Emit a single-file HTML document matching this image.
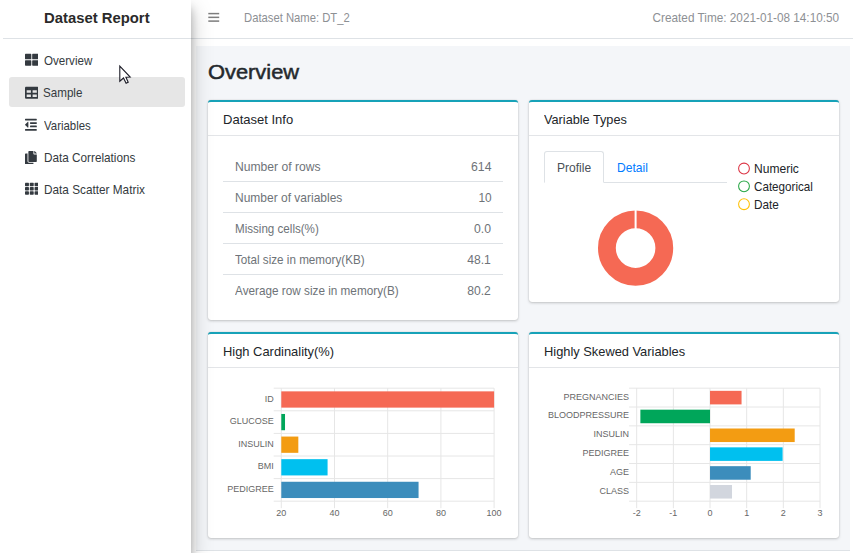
<!DOCTYPE html>
<html lang="en">
<head>
<meta charset="utf-8">
<title>Dataset Report</title>
<style>
*{box-sizing:border-box;margin:0;padding:0}
ul{list-style:none}
html,body{width:853px;height:553px;overflow:hidden;background:#fff}
body{font-family:"Liberation Sans",sans-serif;color:#212529;position:relative;font-size:12px}
.tx{position:absolute;white-space:nowrap;line-height:1;z-index:6;font-family:"Liberation Sans",sans-serif}
h1.tx{-webkit-text-stroke:0.5px #24292d}
.ic{position:absolute;z-index:6;fill:#343a40}
.ch{position:absolute;z-index:3}
.ch text{font-family:"Liberation Sans",sans-serif;font-size:9.5px;fill:#666}
#sidebar{position:absolute;left:0;top:0;width:191px;height:553px;background:#fff;z-index:5;
  box-shadow:0 10px 20px rgba(0,0,0,.25),0 8px 8px rgba(0,0,0,.22)}
#brandline{position:absolute;left:3px;top:38px;width:188px;height:1px;background:#dee2e6}
#active{position:absolute;left:9.3px;top:77.2px;width:175.7px;height:29.5px;border-radius:3px;background:#e6e6e6}
#header{position:absolute;left:191px;top:0;width:662px;height:39px;background:#fff;border-bottom:1px solid #dee2e6}
#content{position:absolute;left:196px;top:46px;width:654px;height:504px;background:#f4f6f9}
#footer{position:absolute;left:196px;top:550px;width:654px;height:3px;border-top:1px solid #dee2e6;background:#fff}
.card{position:absolute;background:#fff;border-top:2.3px solid #17a2b8;border-radius:3px;z-index:2;
  box-shadow:0 0 1px rgba(0,0,0,.2),0 1px 3px rgba(0,0,0,.2)}
.hl{position:absolute;height:1px;background:#e3e5e8;z-index:3}
.rl{position:absolute;left:223px;width:280px;height:1px;background:#dee2e6;z-index:3}
.sv{position:absolute;z-index:3}
</style>
</head>
<body>
<header>
<div id="header"></div>
<svg class="sv" style="left:206px;top:10px;z-index:6" width="16" height="16" viewBox="206 10 16 16" fill="#7d7d7d"><rect x="208.3" y="12.85" width="10.9" height="1.5"/><rect x="208.3" y="16.6" width="10.9" height="1.5"/><rect x="208.3" y="20.35" width="10.9" height="1.5"/></svg>
<span class="tx" id="dsname" style="left:243.7px;top:12px;font-size:12.25px;color:#8d9094;font-weight:normal;transform:scaleX(0.9186);transform-origin:0 0;">Dataset Name: DT_2</span>
<span class="tx" id="ctime" style="right:13.9px;top:12px;font-size:12.25px;color:#8d9094;font-weight:normal;transform:scaleX(0.9609);transform-origin:100% 0;">Created Time: 2021-01-08 14:10:50</span>
</header>
<main>
<div id="content"></div>
<h1 class="tx" id="h1" style="left:208.2px;top:61px;font-size:21px;color:#24292d;font-weight:normal;transform:scaleX(1.0408);transform-origin:0 0;">Overview</h1>
<section>
<div class="card" style="left:208px;top:99.7px;width:310px;height:220.3px"></div>
<div class="hl" style="left:208px;top:135px;width:310px"></div>
<span class="tx" id="ct1" style="left:223.1px;top:113px;font-size:13px;color:#212529;font-weight:normal;transform:scaleX(1.0013);transform-origin:0 0;">Dataset Info</span>
<ul>
<li><span class="tx" id="ra0" style="left:234.9px;top:161px;font-size:12.25px;color:#6e7378;font-weight:normal;transform:scaleX(0.9900);transform-origin:0 0;">Number of rows</span><span class="tx" id="rb0" style="right:361.7px;top:161px;font-size:12.25px;color:#6e7378;font-weight:normal;transform:scaleX(0.9974);transform-origin:100% 0;">614</span><div class="rl" style="top:181px"></div></li>
<li><span class="tx" id="ra1" style="left:234.9px;top:192px;font-size:12.25px;color:#6e7378;font-weight:normal;transform:scaleX(0.9788);transform-origin:0 0;">Number of variables</span><span class="tx" id="rb1" style="right:361.7px;top:192px;font-size:12.25px;color:#6e7378;font-weight:normal;transform:scaleX(0.9677);transform-origin:100% 0;">10</span><div class="rl" style="top:212px"></div></li>
<li><span class="tx" id="ra2" style="left:234.9px;top:223px;font-size:12.25px;color:#6e7378;font-weight:normal;transform:scaleX(0.9471);transform-origin:0 0;">Missing cells(%)</span><span class="tx" id="rb2" style="right:361.7px;top:223px;font-size:12.25px;color:#6e7378;font-weight:normal;transform:scaleX(0.9982);transform-origin:100% 0;">0.0</span><div class="rl" style="top:243px"></div></li>
<li><span class="tx" id="ra3" style="left:234.9px;top:254px;font-size:12.25px;color:#6e7378;font-weight:normal;transform:scaleX(0.9518);transform-origin:0 0;">Total size in memory(KB)</span><span class="tx" id="rb3" style="right:361.7px;top:254px;font-size:12.25px;color:#6e7378;font-weight:normal;transform:scaleX(0.9898);transform-origin:100% 0;">48.1</span><div class="rl" style="top:274px"></div></li>
<li><span class="tx" id="ra4" style="left:234.9px;top:285px;font-size:12.25px;color:#6e7378;font-weight:normal;transform:scaleX(0.9592);transform-origin:0 0;">Average row size in memory(B)</span><span class="tx" id="rb4" style="right:361.7px;top:285px;font-size:12.25px;color:#6e7378;font-weight:normal;transform:scaleX(0.9898);transform-origin:100% 0;">80.2</span></li>
</ul>
</section>
<section>
<div class="card" style="left:529px;top:99.7px;width:310px;height:202.6px"></div>
<div class="hl" style="left:529px;top:135px;width:310px"></div>
<span class="tx" id="ct2" style="left:544.0px;top:113px;font-size:13px;color:#212529;font-weight:normal;transform:scaleX(0.9765);transform-origin:0 0;">Variable Types</span>
<div class="hl" style="left:544px;top:182px;width:183px;background:#dee2e6"></div>
<div id="tab" style="position:absolute;z-index:3;left:544px;top:151px;width:60px;height:32px;border:1px solid #dee2e6;border-bottom-color:#fff;border-radius:3px 3px 0 0;background:#fff"></div>
<span class="tx" id="tp" style="left:556.8px;top:162px;font-size:12.25px;color:#495057;font-weight:normal;transform:scaleX(0.9817);transform-origin:0 0;">Profile</span>
<span class="tx" id="td" style="left:616.9px;top:162px;font-size:12.25px;color:#007bff;font-weight:normal;transform:scaleX(0.9863);transform-origin:0 0;">Detail</span>
<svg class="sv" style="left:589px;top:205px" width="92" height="86" viewBox="589 205 92 86">
<circle cx="635.6" cy="248.1" r="28.7" fill="none" stroke="#f56954" stroke-width="17.8"/>
<rect x="634.6" y="209" width="2" height="20.5" fill="#fff"/>
</svg>
<svg class="sv" style="left:736px;top:161px" width="16" height="52" viewBox="736 161 16 52" fill="none" stroke-width="1.05">
<circle cx="744" cy="168.5" r="5.4" stroke="#dc3545"/>
<circle cx="744" cy="186.3" r="5.4" stroke="#28a745"/>
<circle cx="744" cy="204.2" r="5.4" stroke="#ffc107"/>
</svg>
<span class="tx" id="l1" style="left:753.7px;top:163px;font-size:12.25px;color:#212529;font-weight:normal;transform:scaleX(0.9844);transform-origin:0 0;">Numeric</span>
<span class="tx" id="l2" style="left:753.7px;top:181px;font-size:12.25px;color:#212529;font-weight:normal;transform:scaleX(0.9505);transform-origin:0 0;">Categorical</span>
<span class="tx" id="l3" style="left:753.7px;top:199px;font-size:12.25px;color:#212529;font-weight:normal;transform:scaleX(0.9617);transform-origin:0 0;">Date</span>
</section>
<section>
<div class="card" style="left:208px;top:331.7px;width:310px;height:206.1px"></div>
<div class="hl" style="left:208px;top:367px;width:310px"></div>
<span class="tx" id="ct3" style="left:223.4px;top:345px;font-size:13px;color:#212529;font-weight:normal;transform:scaleX(0.9921);transform-origin:0 0;">High Cardinality(%)</span>
<svg id="ch1" class="ch" style="left:171px;top:380px" width="343" height="147" viewBox="171 380 343 147">
<line x1="273.70" x2="494.10" y1="388.20" y2="388.20" stroke="#e6e6e6"/>
<line x1="273.70" x2="494.10" y1="410.80" y2="410.80" stroke="#e6e6e6"/>
<line x1="273.70" x2="494.10" y1="433.40" y2="433.40" stroke="#e6e6e6"/>
<line x1="273.70" x2="494.10" y1="456.00" y2="456.00" stroke="#e6e6e6"/>
<line x1="273.70" x2="494.10" y1="478.60" y2="478.60" stroke="#e6e6e6"/>
<line x1="273.70" x2="494.10" y1="501.20" y2="501.20" stroke="#e6e6e6"/>
<line x1="281.30" x2="281.30" y1="388.20" y2="508.20" stroke="#e6e6e6"/>
<line x1="334.50" x2="334.50" y1="388.20" y2="508.20" stroke="#e6e6e6"/>
<line x1="387.70" x2="387.70" y1="388.20" y2="508.20" stroke="#e6e6e6"/>
<line x1="440.90" x2="440.90" y1="388.20" y2="508.20" stroke="#e6e6e6"/>
<line x1="494.10" x2="494.10" y1="388.20" y2="508.20" stroke="#e6e6e6"/>
<rect x="281.30" y="391.36" width="212.80" height="16.27" fill="#f56954"/>
<text transform="translate(273.70 401.50) scale(0.947 1)" text-anchor="end">ID</text>
<rect x="281.30" y="413.96" width="3.72" height="16.27" fill="#00a65a"/>
<text transform="translate(273.70 424.10) scale(0.947 1)" text-anchor="end">GLUCOSE</text>
<rect x="281.30" y="436.56" width="17.02" height="16.27" fill="#f39c12"/>
<text transform="translate(273.70 446.70) scale(0.947 1)" text-anchor="end">INSULIN</text>
<rect x="281.30" y="459.16" width="46.28" height="16.27" fill="#00c0ef"/>
<text transform="translate(273.70 469.30) scale(0.947 1)" text-anchor="end">BMI</text>
<rect x="281.30" y="481.76" width="137.26" height="16.27" fill="#3c8dbc"/>
<text transform="translate(273.70 491.90) scale(0.947 1)" text-anchor="end">PEDIGREE</text>
<text transform="translate(281.30 516.10) scale(0.947 1)" text-anchor="middle">20</text>
<text transform="translate(334.50 516.10) scale(0.947 1)" text-anchor="middle">40</text>
<text transform="translate(387.70 516.10) scale(0.947 1)" text-anchor="middle">60</text>
<text transform="translate(440.90 516.10) scale(0.947 1)" text-anchor="middle">80</text>
<text transform="translate(494.10 516.10) scale(0.947 1)" text-anchor="middle">100</text>
</svg>
</section>
<section>
<div class="card" style="left:529px;top:331.7px;width:310px;height:206.1px"></div>
<div class="hl" style="left:529px;top:367px;width:310px"></div>
<span class="tx" id="ct4" style="left:544.4px;top:345px;font-size:13px;color:#212529;font-weight:normal;transform:scaleX(0.9878);transform-origin:0 0;">Highly Skewed Variables</span>
<svg id="ch2" class="ch" style="left:526px;top:380px" width="314" height="147" viewBox="526 380 314 147">
<line x1="629.10" x2="820.00" y1="388.20" y2="388.20" stroke="#e6e6e6"/>
<line x1="629.10" x2="820.00" y1="407.03" y2="407.03" stroke="#e6e6e6"/>
<line x1="629.10" x2="820.00" y1="425.87" y2="425.87" stroke="#e6e6e6"/>
<line x1="629.10" x2="820.00" y1="444.70" y2="444.70" stroke="#e6e6e6"/>
<line x1="629.10" x2="820.00" y1="463.53" y2="463.53" stroke="#e6e6e6"/>
<line x1="629.10" x2="820.00" y1="482.37" y2="482.37" stroke="#e6e6e6"/>
<line x1="629.10" x2="820.00" y1="501.20" y2="501.20" stroke="#e6e6e6"/>
<line x1="636.70" x2="636.70" y1="388.20" y2="508.20" stroke="#e6e6e6"/>
<line x1="673.36" x2="673.36" y1="388.20" y2="508.20" stroke="#e6e6e6"/>
<line x1="710.02" x2="710.02" y1="388.20" y2="508.20" stroke="#e6e6e6"/>
<line x1="746.68" x2="746.68" y1="388.20" y2="508.20" stroke="#e6e6e6"/>
<line x1="783.34" x2="783.34" y1="388.20" y2="508.20" stroke="#e6e6e6"/>
<line x1="820.00" x2="820.00" y1="388.20" y2="508.20" stroke="#e6e6e6"/>
<rect x="710.02" y="390.84" width="31.53" height="13.56" fill="#f56954"/>
<text transform="translate(629.10 399.62) scale(0.947 1)" text-anchor="end">PREGNANCIES</text>
<rect x="640.37" y="409.67" width="69.65" height="13.56" fill="#00a65a"/>
<text transform="translate(629.10 418.45) scale(0.947 1)" text-anchor="end">BLOODPRESSURE</text>
<rect x="710.02" y="428.50" width="84.68" height="13.56" fill="#f39c12"/>
<text transform="translate(629.10 437.28) scale(0.947 1)" text-anchor="end">INSULIN</text>
<rect x="710.02" y="447.34" width="72.59" height="13.56" fill="#00c0ef"/>
<text transform="translate(629.10 456.12) scale(0.947 1)" text-anchor="end">PEDIGREE</text>
<rect x="710.02" y="466.17" width="40.69" height="13.56" fill="#3c8dbc"/>
<text transform="translate(629.10 474.95) scale(0.947 1)" text-anchor="end">AGE</text>
<rect x="710.02" y="485.00" width="22.00" height="13.56" fill="#d2d6de"/>
<text transform="translate(629.10 493.78) scale(0.947 1)" text-anchor="end">CLASS</text>
<text transform="translate(636.70 516.10) scale(0.947 1)" text-anchor="middle">-2</text>
<text transform="translate(673.36 516.10) scale(0.947 1)" text-anchor="middle">-1</text>
<text transform="translate(710.02 516.10) scale(0.947 1)" text-anchor="middle">0</text>
<text transform="translate(746.68 516.10) scale(0.947 1)" text-anchor="middle">1</text>
<text transform="translate(783.34 516.10) scale(0.947 1)" text-anchor="middle">2</text>
<text transform="translate(820.00 516.10) scale(0.947 1)" text-anchor="middle">3</text>
</svg>
</section>
</main>
<footer><div id="footer"></div></footer>
<aside>
<div id="sidebar"></div>
<span class="tx" id="brand" style="left:44.4px;top:11px;font-size:14.8px;color:#2a2a2a;font-weight:bold;transform:scaleX(1.0033);transform-origin:0 0;">Dataset Report</span>
<div id="brandline" style="z-index:6"></div>
<nav>
<div id="active" style="z-index:6"></div>
<ul>
<li><svg class="ic" id="i1" viewBox="0 0 512 512" style="left:24.50px;top:53.25px;width:13.50px;height:13.5px"><path d="M296 32h192c13.255 0 24 10.745 24 24v160c0 13.255-10.745 24-24 24H296c-13.255 0-24-10.745-24-24V56c0-13.255 10.745-24 24-24zm-80 0H24C10.745 32 0 42.745 0 56v160c0 13.255 10.745 24 24 24h192c13.255 0 24-10.745 24-24V56c0-13.255-10.745-24-24-24zM0 296v160c0 13.255 10.745 24 24 24h192c13.255 0 24-10.745 24-24V296c0-13.255-10.745-24-24-24H24c-13.255 0-24 10.745-24 24zm296 184h192c13.255 0 24-10.745 24-24V296c0-13.255-10.745-24-24-24H296c-13.255 0-24 10.745-24 24v160c0 13.255 10.745 24 24 24z"/></svg><span class="tx" id="n1" style="left:44.0px;top:55px;font-size:12.25px;color:#343a40;font-weight:normal;transform:scaleX(0.9459);transform-origin:0 0;">Overview</span></li>
<li><svg class="ic" id="i2" viewBox="0 0 512 512" style="left:24.50px;top:85.75px;width:13.50px;height:13.5px"><path d="M464 32H48C21.49 32 0 53.49 0 80v352c0 26.51 21.49 48 48 48h416c26.51 0 48-21.49 48-48V80c0-26.51-21.49-48-48-48zM224 416H64v-96h160v96zm0-160H64v-96h160v96zm224 160H288v-96h160v96zm0-160H288v-96h160v96z"/></svg><span class="tx" id="n2" style="left:42.9px;top:87px;font-size:12.25px;color:#343a40;font-weight:normal;transform:scaleX(0.9483);transform-origin:0 0;">Sample</span></li>
<li><svg class="ic" id="i3" viewBox="0 0 448 512" style="left:25.34px;top:118.30px;width:11.81px;height:13.5px"><path d="M100.69 363.29c10 10 27.31 2.93 27.31-11.31V160c0-14.32-17.33-21.31-27.31-11.31l-96 96a16 16 0 0 0 0 22.62zM432 416H16a16 16 0 0 0-16 16v32a16 16 0 0 0 16 16h416a16 16 0 0 0 16-16v-32a16 16 0 0 0-16-16zm3.17-128H204.83A12.82 12.82 0 0 0 192 300.83v38.34A12.82 12.82 0 0 0 204.83 352h230.34A12.82 12.82 0 0 0 448 339.17v-38.34A12.82 12.82 0 0 0 435.17 288zm0-128H204.83A12.82 12.82 0 0 0 192 172.83v38.34A12.82 12.82 0 0 0 204.83 224h230.34A12.82 12.82 0 0 0 448 211.17v-38.34A12.82 12.82 0 0 0 435.17 160zM432 32H16A16 16 0 0 0 0 48v32a16 16 0 0 0 16 16h416a16 16 0 0 0 16-16V48a16 16 0 0 0-16-16z"/></svg><span class="tx" id="n3" style="left:43.8px;top:120px;font-size:12.25px;color:#343a40;font-weight:normal;transform:scaleX(0.9328);transform-origin:0 0;">Variables</span></li>
<li><svg class="ic" id="i4" viewBox="0 0 448 512" style="left:25.34px;top:150.65px;width:11.81px;height:13.5px"><path d="M320 448v40c0 13.255-10.745 24-24 24H24c-13.255 0-24-10.745-24-24V120c0-13.255 10.745-24 24-24h72v296c0 30.879 25.121 56 56 56h168zm0-344V0H152c-13.255 0-24 10.745-24 24v368c0 13.255 10.745 24 24 24h272c13.255 0 24-10.745 24-24V128H344c-13.2 0-24-10.8-24-24zm120.971-31.029L375.029 7.029A24 24 0 0 0 358.059 0H352v96h96v-6.059a24 24 0 0 0-7.029-16.97z"/></svg><span class="tx" id="n4" style="left:43.8px;top:152px;font-size:12.25px;color:#343a40;font-weight:normal;transform:scaleX(0.9588);transform-origin:0 0;">Data Correlations</span></li>
<li><svg class="ic" id="i5" viewBox="0 0 512 512" style="left:24.5px;top:182.05px;width:13.5px;height:13.5px"><rect x="0" y="32" width="149.3" height="128" rx="24"/><rect x="181.3" y="32" width="149.3" height="128" rx="24"/><rect x="362.7" y="32" width="149.3" height="128" rx="24"/><rect x="0" y="192" width="149.3" height="128" rx="24"/><rect x="181.3" y="192" width="149.3" height="128" rx="24"/><rect x="362.7" y="192" width="149.3" height="128" rx="24"/><rect x="0" y="352" width="149.3" height="128" rx="24"/><rect x="181.3" y="352" width="149.3" height="128" rx="24"/><rect x="362.7" y="352" width="149.3" height="128" rx="24"/></svg><span class="tx" id="n5" style="left:43.8px;top:184px;font-size:12.25px;color:#343a40;font-weight:normal;transform:scaleX(0.9624);transform-origin:0 0;">Data Scatter Matrix</span></li>
</ul>
</nav>
</aside>
<svg id="cursor" style="position:absolute;left:115px;top:60px;z-index:9" width="20" height="28" viewBox="115 60 20 28"><path d="M119.8 66.2 L119.8 81.2 L123.5 78 L126.1 83.2 L128.2 82.3 L125.9 77.3 L130.2 77 Z" fill="#fff" stroke="#1b1b26" stroke-width="1.1" stroke-linejoin="miter"/></svg>
</body>
</html>
